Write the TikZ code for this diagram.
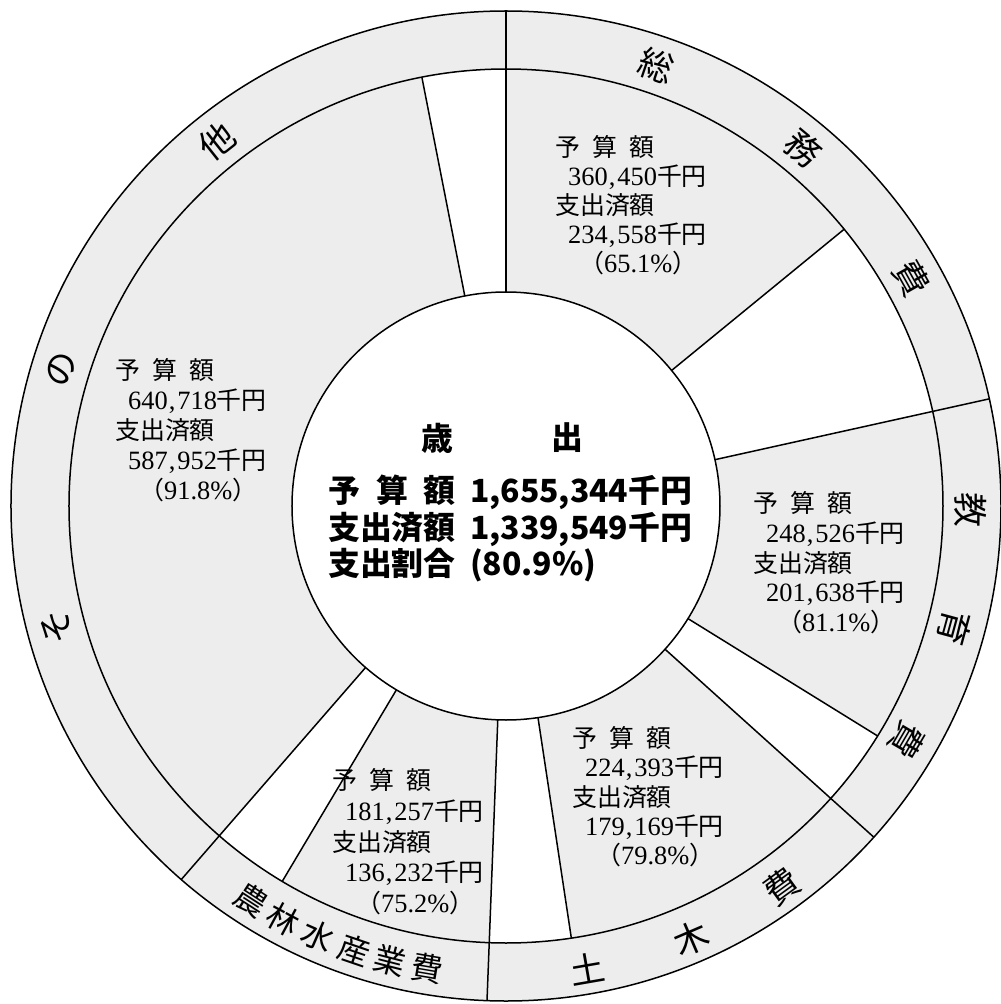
\documentclass[tikz,border=0pt]{standalone}
\usepackage{fontspec}
\setmainfont{Liberation Serif}
\newfontfamily\jp{Noto Sans CJK JP}
\definecolor{bandgray}{RGB}{237,237,237}
\newcommand\cma{\kern1bp,\kern2bp}
\newcommand\dg[1]{{\fontsize{26.5}{30}\selectfont #1}}
\newcommand\seclab[7]{%
 \node[lab] (#1a) at ({#2-506},{506-(#3)-9.5}) {\jp 予\hspace{.5em}算\hspace{.5em}額};
 \node[lab] (#1b) at ({#2+13-506},{506-(#3)-9.5-(#7)}) {\dg{#4}{\jp 千円}};
 \node[lab] (#1c) at ({#2-506},{506-(#3)-9.5-2*(#7)}) {\jp 支出済額};
 \node[lab] (#1d) at ({#2+13-506},{506-(#3)-9.5-3*(#7)}) {\dg{#5}{\jp 千円}};
 \node[lab] (#1e) at ({#2+24-506},{506-(#3)-9.5-4*(#7)}) {{\jp （}\dg{#6\%}{\jp ）}};
}
\begin{document}
\begin{tikzpicture}[x=1bp,y=1bp,
  ln/.style={line width=1.5bp, black},
  lab/.style={anchor=base west, inner sep=0pt, font=\fontsize{25}{30}\selectfont},
  ctr/.style={anchor=base west, inner sep=0pt, font=\jp\bfseries\fontsize{32}{38}\selectfont},
  bch/.style={inner sep=0pt, font=\jp\fontsize{35}{35}\selectfont},
  bchs/.style={inner sep=0pt, font=\jp\fontsize{32}{32}\selectfont}]
\fill[white] (-506,-498) rectangle (495,506);
\useasboundingbox (-506,-498) rectangle (495,506);
\coordinate (O) at (0,0);
\fill[bandgray] (O) circle[radius=495];
% unspent (white) wedges
\foreach \a/\b in {12.5/39.3, -42/-31.75, -92.2/-81.4, -131/-120.8, 90/101.1} {
  \fill[white] (O) -- (\a:437) arc[start angle=\a, end angle=\b, radius=437] -- cycle;
}
\fill[white] (O) circle[radius=214];
\draw[ln] (O) circle[radius=495];
\draw[ln] (O) circle[radius=437];
\draw[ln] (O) circle[radius=214];
\foreach \a in {90,12.5,-42,-92.2,-131} \draw[ln] (\a:214) -- (\a:495);
\foreach \a in {39.3,-31.75,-81.4,-120.8,101.1} \draw[ln] (\a:214) -- (\a:437);
% band characters, tops outward
\foreach \c/\a [count=\i] in {総/71.2, 務/50.2, 費/29.3, 教/-0.5, 育/-15.2, 費/-30.3, そ/195.1, の/162.9, 他/128.4}
  \node[bch, rotate=\a-90] (o\i) at (\a:465) {\c};
% band characters, tops inward
\foreach \c/\a [count=\i] in {土/-80.1, 木/-66.8, 費/-54}
  \node[bch, rotate=\a+90] (i\i) at (\a:470) {\c};
\foreach \c/\a [count=\i] in {農/-122.9, 林/-118.3, 水/-113.6, 産/-108.9, 業/-104.3, 費/-99.7}
  \node[bchs, rotate=\a+90] (n\i) at (\a:469) {\c};
% centre
\node[inner sep=0pt, font=\jp\bfseries\fontsize{32}{38}\selectfont] (sai) at (-69,68) {歳};
\node[inner sep=0pt, font=\jp\bfseries\fontsize{32}{38}\selectfont] (shutsu) at (61,68) {出};
\node[ctr] (c1) at (-178,4) {予\hspace{.5em}算\hspace{.5em}額\hspace{.45em}1,655,344千円};
\node[ctr] (c2) at (-178,-33) {支出済額\hspace{.45em}1,339,549千円};
\node[ctr] (c3) at (-178,-69) {支出割合\hspace{.45em}(80.9\%)};
% sector labels
\seclab{s}{555}{147}{360\cma450}{234\cma558}{65.1}{29}
\seclab{k}{753}{503}{248\cma526}{201\cma638}{81.1}{29.75}
\seclab{d}{572}{738}{224\cma393}{179\cma169}{79.8}{29.25}
\seclab{n}{332}{780}{181\cma257}{136\cma232}{75.2}{30.75}
\seclab{t}{115}{370}{640\cma718}{587\cma952}{91.8}{30}
\end{tikzpicture}
\end{document}
